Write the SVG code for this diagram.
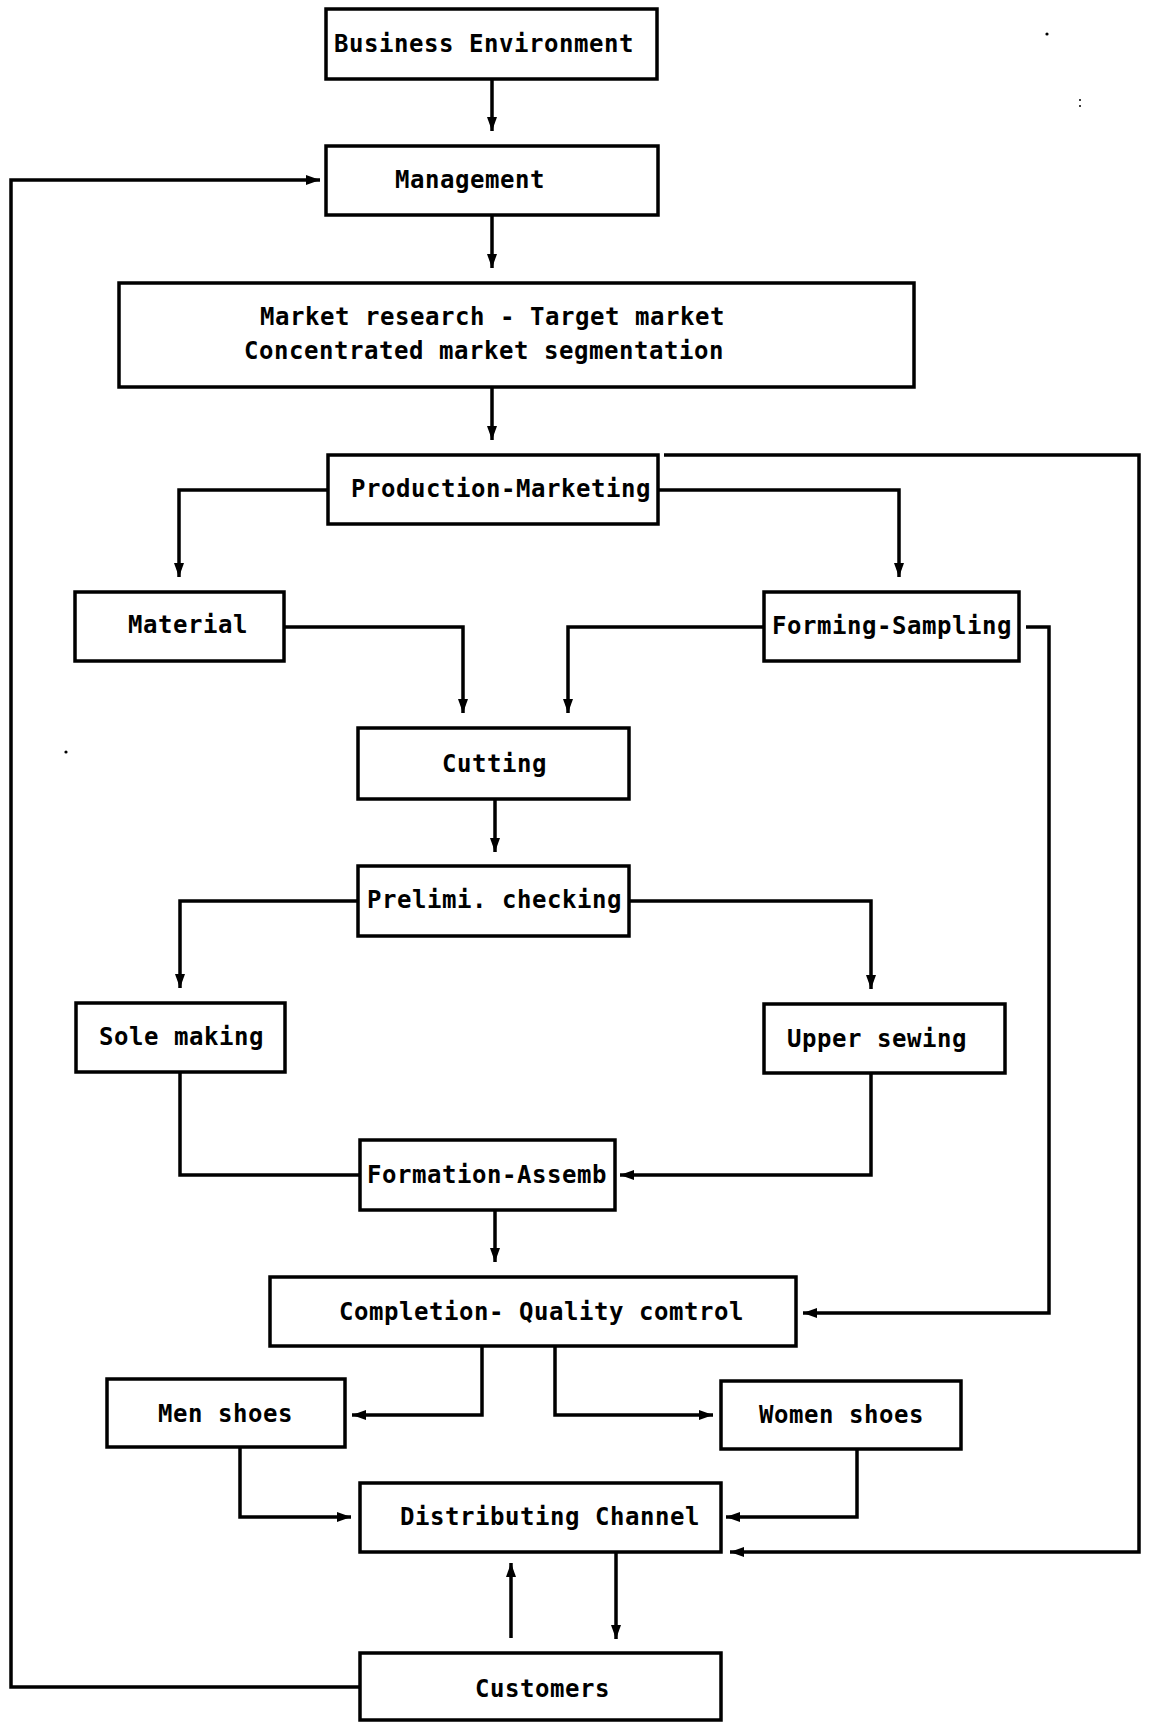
<svg xmlns="http://www.w3.org/2000/svg" width="1150" height="1722" viewBox="0 0 1150 1722">
<style>
.box{fill:#fff;stroke:#000;stroke-width:3.5}
.lbl{font-family:"DejaVu Sans Mono","Liberation Mono",monospace;font-weight:bold;font-size:24px;letter-spacing:0.55px;fill:#000}
.c{fill:none;stroke:#000;stroke-width:3.5}
.a{marker-end:url(#ah)}
</style>
<defs>
<marker id="ah" markerUnits="userSpaceOnUse" markerWidth="15" markerHeight="10" refX="14" refY="5" orient="auto">
<path d="M0,0 L14,5 L0,10 z" fill="#000"/>
</marker>
</defs>
<rect width="1150" height="1722" fill="#fff"/>
<g id="connectors">
<path class="c a" d="M492 79 V131"/>
<path class="c a" d="M492 215 V268"/>
<path class="c a" d="M492 387 V440"/>
<path class="c a" d="M328 490 H179 V577"/>
<path class="c a" d="M658 490 H899 V577"/>
<path class="c a" d="M284 627 H463 V713"/>
<path class="c a" d="M764 627 H568 V713"/>
<path class="c a" d="M1026 627 H1049 V1313 H803"/>
<path class="c a" d="M664 455 H1139 V1552 H730"/>
<path class="c a" d="M495 799 V852"/>
<path class="c a" d="M358 901 H180 V988"/>
<path class="c a" d="M629 901 H871 V989"/>
<path class="c" d="M180 1072 V1175 H360"/>
<path class="c a" d="M871 1073 V1175 H620"/>
<path class="c a" d="M495 1210 V1262"/>
<path class="c a" d="M482 1346 V1415 H352"/>
<path class="c a" d="M555 1346 V1415 H713"/>
<path class="c a" d="M240 1447 V1517 H351"/>
<path class="c a" d="M857 1449 V1517 H726"/>
<path class="c a" d="M616 1552 V1639"/>
<path class="c a" d="M511 1638 V1563"/>
<path class="c a" d="M360 1687 H11 V180 H320"/>
</g>
<g id="business-environment"><rect class="box" x="326" y="9" width="331" height="70"/><text class="lbl" x="334" y="52">Business Environment</text></g>
<g id="management"><rect class="box" x="326" y="146" width="332" height="69"/><text class="lbl" x="395" y="188">Management</text></g>
<g id="market-research"><rect class="box" x="119" y="283" width="795" height="104"/><text class="lbl" x="260" y="325">Market research - Target market</text><text class="lbl" x="244" y="359">Concentrated market segmentation</text></g>
<g id="production-marketing"><rect class="box" x="328" y="455" width="330" height="69"/><text class="lbl" x="351" y="497">Production-Marketing</text></g>
<g id="material"><rect class="box" x="75" y="592" width="209" height="69"/><text class="lbl" x="128" y="633">Material</text></g>
<g id="forming-sampling"><rect class="box" x="764" y="592" width="255" height="69"/><text class="lbl" x="772" y="634">Forming-Sampling</text></g>
<g id="cutting"><rect class="box" x="358" y="728" width="271" height="71"/><text class="lbl" x="442" y="772">Cutting</text></g>
<g id="prelimi-checking"><rect class="box" x="358" y="866" width="271" height="70"/><text class="lbl" x="367" y="908">Prelimi. checking</text></g>
<g id="sole-making"><rect class="box" x="76" y="1003" width="209" height="69"/><text class="lbl" x="99" y="1045">Sole making</text></g>
<g id="upper-sewing"><rect class="box" x="764" y="1004" width="241" height="69"/><text class="lbl" x="787" y="1047">Upper sewing</text></g>
<g id="formation-assemb"><rect class="box" x="360" y="1140" width="255" height="70"/><text class="lbl" x="367" y="1183">Formation-Assemb</text></g>
<g id="completion-quality"><rect class="box" x="270" y="1277" width="526" height="69"/><text class="lbl" x="339" y="1320">Completion- Quality comtrol</text></g>
<g id="men-shoes"><rect class="box" x="107" y="1379" width="238" height="68"/><text class="lbl" x="158" y="1422">Men shoes</text></g>
<g id="women-shoes"><rect class="box" x="721" y="1381" width="240" height="68"/><text class="lbl" x="759" y="1423">Women shoes</text></g>
<g id="distributing-channel"><rect class="box" x="360" y="1483" width="361" height="69"/><text class="lbl" x="400" y="1525">Distributing Channel</text></g>
<g id="customers"><rect class="box" x="360" y="1653" width="361" height="67"/><text class="lbl" x="475" y="1697">Customers</text></g>
<g id="specks" fill="#000">
<circle cx="1047" cy="34" r="1.6"/>
<circle cx="1080" cy="100" r="1"/>
<circle cx="1080" cy="106" r="1"/>
<circle cx="66" cy="752" r="1.6"/>
</g>
</svg>
